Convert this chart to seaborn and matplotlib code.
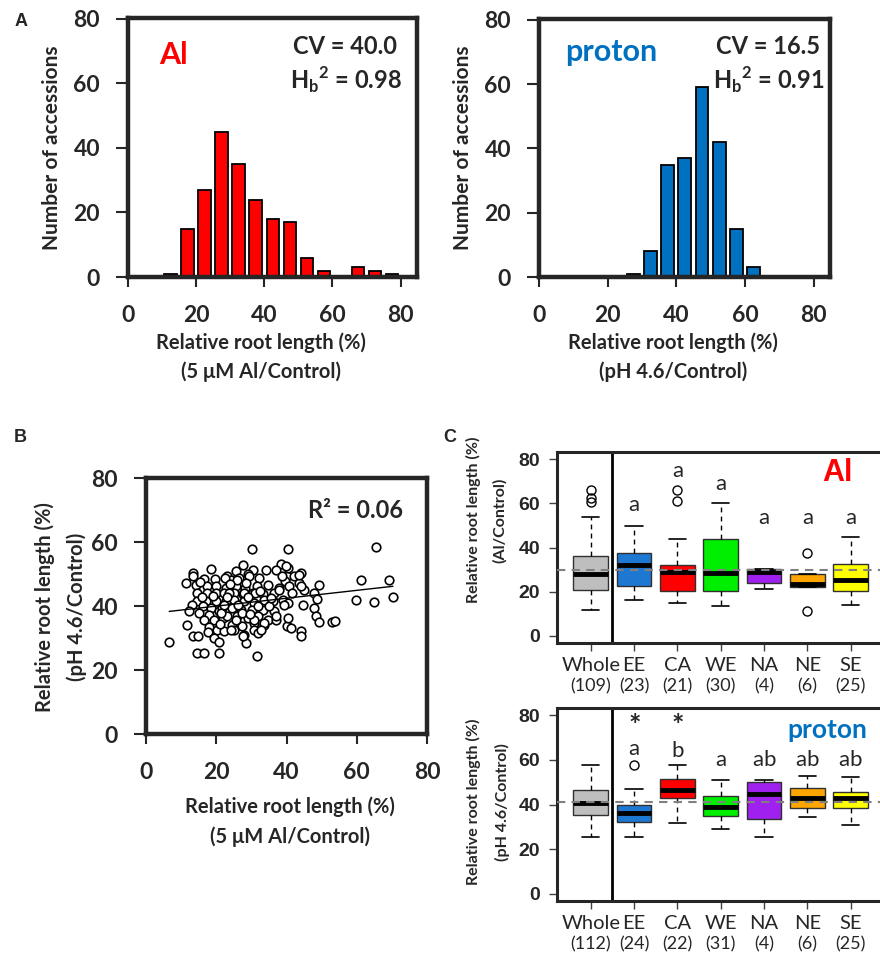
import numpy as np
import matplotlib
matplotlib.use('Agg')
import matplotlib.pyplot as plt
import seaborn as sns

sns.set_style('ticks')
plt.rcParams['font.family'] = ['Lato', 'DejaVu Sans']
plt.rcParams['mathtext.fontset'] = 'custom'
plt.rcParams['mathtext.rm'] = 'Lato'
plt.rcParams['mathtext.bf'] = 'Lato:bold'

# ---------------- data ----------------
# panel A: histograms (bins of 5 %)
bin_edges = [0, 5, 10, 15, 20, 25, 30, 35, 40, 45, 50, 55, 60, 65, 70, 75, 80]
bin_centers = [2.5, 7.5, 12.5, 17.5, 22.5, 27.5, 32.5, 37.5, 42.5, 47.5,
               52.5, 57.5, 62.5, 67.5, 72.5, 77.5]
al_counts = [0, 0, 1, 15, 27, 45, 35, 24, 18, 17, 6, 2, 0, 3, 2, 1]
proton_counts = [0, 0, 0, 0, 0, 1, 8, 35, 37, 59, 42, 15, 3, 0, 0, 0]

# panel B: Al RRL (x) vs proton RRL (y)
rrl_al = [18.4, 13.4, 13.3, 11.3, 14.2, 16.5, 19.7, 17.5, 20.0, 14.6, 17.5, 19.9, 14.6, 17.0,
          19.9, 13.2, 16.1, 18.4, 12.3, 15.1, 18.0, 20.8, 16.6, 19.5, 21.8, 11.8, 18.0, 20.3,
          13.4, 14.8, 17.6, 19.5, 20.9, 6.6, 14.6, 16.4, 20.7,
          30.3, 38.4, 27.5, 34.1, 30.6, 37.0, 25.6, 23.2, 29.1, 24.2, 26.5, 32.2, 40.2, 22.7,
          25.5, 28.3, 31.6, 37.8, 39.7, 22.2, 25.1, 27.5, 30.4, 33.2, 36.5, 22.7, 25.1, 28.0,
          30.8, 33.7, 36.1, 38.9, 21.7, 24.6, 27.0, 30.3, 33.2, 36.5, 23.2, 26.0, 28.9, 31.8,
          34.6, 37.0, 24.6, 27.4, 30.8, 33.7, 22.2, 25.1, 28.0, 28.4, 30.8, 31.7, 40.0, 40.4,
          40.3, 40.3, 42.2, 44.0, 43.6, 40.8, 45.0, 49.3, 47.8, 41.6, 40.4, 44.6, 48.8, 47.8,
          48.3, 49.3, 53.0, 53.7, 41.2, 44.0, 44.0,
          65.6, 61.2, 69.2, 59.8, 64.8, 70.3,
          22.4, 23.7, 26.0, 27.9, 29.4, 31.0, 32.5, 33.6, 35.1, 37.0, 37.9, 38.8, 39.3, 39.8,
          43.6, 44.1, 21.3, 22.2, 24.1, 27.2, 27.5, 30.8, 31.9, 32.7, 23.0, 26.2, 29.0, 32.0,
          34.8, 24.0, 28.6, 19.0, 16.0, 15.5, 21.0, 25.5, 29.5, 35.5]
rrl_proton = [51.6, 50.3, 49.5, 47.2, 46.7, 48.4, 48.4, 46.1, 46.1, 44.1, 44.1, 44.1, 41.5, 41.5,
              41.5, 40.4, 39.9, 39.4, 38.3, 37.8, 37.2, 38.3, 35.7, 35.7, 36.3, 34.2, 33.5, 32.6,
              30.5, 30.5, 32.0, 29.9, 28.8, 28.8, 25.3, 25.3, 25.3,
              57.8, 53.2, 52.9, 51.3, 51.3, 51.3, 50.8, 49.5, 49.9, 48.2, 48.6, 48.6, 49.5, 45.6,
              46.1, 45.6, 46.1, 45.6, 47.7, 44.1, 44.1, 43.6, 44.1, 43.6, 44.1, 41.5, 42.0, 41.5,
              41.0, 42.0, 41.5, 42.0, 39.4, 39.4, 38.9, 38.9, 38.9, 38.3, 36.8, 36.8, 36.3, 36.8,
              35.7, 35.7, 34.2, 33.7, 34.7, 34.2, 32.1, 32.6, 31.0, 28.4, 32.6, 24.3, 33.7, 36.3,
              57.8, 51.8, 49.3, 50.3, 47.2, 46.1, 45.1, 46.7, 44.1, 44.1, 41.0, 40.4, 42.3, 39.4,
              36.8, 34.9, 34.9, 35.3, 33.1, 32.1, 30.5,
              58.3, 48.2, 48.1, 42.0, 41.2, 42.7,
              48.8, 44.1, 48.2, 44.1, 49.3, 44.1, 44.6, 34.7, 39.9, 37.0, 45.1, 49.3, 40.4, 52.4,
              49.8, 46.1, 37.8, 40.4, 32.6, 37.8, 30.5, 35.7, 31.6, 32.6, 42.8, 40.3, 42.8, 40.0,
              46.6, 46.9, 47.3, 43.0, 42.7, 47.5, 34.5, 35.5, 37.5, 42.5]

# panel C: boxplot summaries by region
regions = ['Whole', 'EE', 'CA', 'WE', 'NA', 'NE', 'SE']
box_colors = ['#BEBEBE', '#1E78D2', '#FF0000', '#00EE00', '#A020F0', '#FFA500', '#FFFF00']

al_n = ['(109)', '(23)', '(21)', '(30)', '(4)', '(6)', '(25)']
al_lo = [11.7, 16.2, 14.9, 13.5, 21.2, 22.2, 14.0]
al_q1 = [20.7, 22.5, 20.4, 20.4, 24.0, 22.2, 20.3]
al_med = [27.9, 32.3, 28.7, 28.4, 28.7, 23.3, 25.2]
al_q3 = [36.2, 37.7, 32.0, 44.0, 30.2, 27.8, 32.7]
al_hi = [53.9, 49.7, 44.0, 60.0, 30.2, 27.8, 44.7]
al_fliers = [[66.0, 62.2, 60.6], [], [66.0, 61.0], [], [], [37.7, 11.4], []]
al_letters = ['', 'a', 'a', 'a', 'a', 'a', 'a']
al_letter_y = [0, 59.0, 74.5, 68.5, 53.5, 53.5, 53.5]
al_ref = 29.8

pr_n = ['(112)', '(24)', '(22)', '(31)', '(4)', '(6)', '(25)']
pr_lo = [25.3, 25.3, 31.9, 29.0, 25.3, 34.2, 30.7]
pr_q1 = [35.3, 32.1, 43.1, 34.8, 33.5, 38.4, 38.4]
pr_med = [40.7, 36.3, 46.7, 38.7, 44.9, 43.1, 43.1]
pr_q3 = [46.4, 39.6, 51.4, 43.7, 49.9, 47.4, 45.6]
pr_hi = [57.8, 47.1, 57.8, 51.1, 50.8, 52.6, 52.3]
pr_fliers = [[], [57.5], [], [], [], [], []]
pr_letters = ['', 'a', 'b', 'a', 'ab', 'ab', 'ab']
pr_letter_y = [0, 64.8, 63.8, 59.7, 59.7, 59.7, 59.7]
pr_star = [False, True, True, False, False, False, False]
pr_star_y = 76.0
pr_ref = 40.9

AL_RED = '#FF0000'
PROTON_BLUE = '#0070C0'

# ---------------- layout helpers ----------------
W, H = 880, 955
fig = plt.figure(figsize=(W / 100, H / 100), dpi=100)


def px_axes(l, t, r, b):
    return fig.add_axes([l / W, 1 - b / H, (r - l) / W, (b - t) / H])


def ftext(x, y, s, **kw):
    kw.setdefault('ha', 'center')
    kw.setdefault('va', 'center')
    return fig.text(x / W, 1 - y / H, s, **kw)


def bold_ticks(ax, size, family=None):
    for lbl in ax.get_xticklabels() + ax.get_yticklabels():
        lbl.set_fontweight('bold')
        lbl.set_fontsize(size)
        if family:
            lbl.set_family(family)


# ---------------- panel A ----------------
def hist_panel(ax, counts, color):
    sns.histplot(x=bin_centers, weights=counts, bins=bin_edges, shrink=0.74,
                 color=color, edgecolor='black', linewidth=1.3, alpha=1, ax=ax)
    ax.set_xlim(0, 84.8)
    ax.set_ylim(0, 80.3)
    ax.set_xticks([0, 20, 40, 60, 80])
    ax.set_yticks([0, 20, 40, 60, 80])
    ax.set_xlabel('')
    ax.set_ylabel('')
    for sp in ax.spines.values():
        sp.set_linewidth(3.2)
    ax.tick_params(axis='x', length=7, width=1.5, pad=13)
    ax.tick_params(axis='y', length=9, width=1.5, pad=11)
    bold_ticks(ax, 16.5)


axA1 = px_axes(128, 18, 417, 277)
hist_panel(axA1, al_counts, AL_RED)
axA2 = px_axes(539, 19, 830, 277)
hist_panel(axA2, proton_counts, '#0070C0')

for cx in (52, 463):
    ftext(cx, 148, 'Number of accessions', rotation=90, fontsize=15, fontweight='bold')
ftext(261, 343, 'Relative root length (%)', fontsize=14.5, fontweight='bold')
ftext(261, 372, '(5 \u03bcM Al/Control)', fontsize=14.5, fontweight='bold')
ftext(673, 343, 'Relative root length (%)', fontsize=14.5, fontweight='bold')
ftext(673, 372, '(pH 4.6/Control)', fontsize=14.5, fontweight='bold')

ftext(173, 55, 'Al', fontsize=22, fontweight='bold', color=AL_RED)
ftext(397, 47, 'CV = 40.0', ha='right', fontsize=17, fontweight='bold')
ftext(402, 80, r'$\mathbf{H}_{\mathbf{b}}{}^{\mathbf{2}}$ = 0.98', ha='right', fontsize=17,
      fontweight='bold')
ftext(611, 52, 'proton', fontsize=22, fontweight='bold', color=PROTON_BLUE)
ftext(820, 47, 'CV = 16.5', ha='right', fontsize=17, fontweight='bold')
ftext(825, 80, r'$\mathbf{H}_{\mathbf{b}}{}^{\mathbf{2}}$ = 0.91', ha='right', fontsize=17,
      fontweight='bold')

# ---------------- panel B ----------------
axB = px_axes(146, 478, 427, 734)
sns.scatterplot(x=rrl_al, y=rrl_proton, s=38, color='white', edgecolor='black',
                linewidth=1.2, ax=axB, zorder=2)
sns.regplot(x=rrl_al, y=rrl_proton, scatter=False, ci=None, color='black',
            line_kws={'lw': 1, 'zorder': 3}, ax=axB)
axB.set_xlim(0, 80)
axB.set_ylim(0, 80)
axB.set_xticks([0, 20, 40, 60, 80])
axB.set_yticks([0, 20, 40, 60, 80])
for sp in axB.spines.values():
    sp.set_linewidth(3.2)
axB.tick_params(axis='x', length=7, width=1.5, pad=13)
axB.tick_params(axis='y', length=9, width=1.5, pad=11)
bold_ticks(axB, 16.5)
ftext(403, 510, 'R\u00b2 = 0.06', ha='right', fontsize=17, fontweight='bold')
ftext(45, 607, 'Relative root length (%)', rotation=90, fontsize=14.5, fontweight='bold')
ftext(77, 607, '(pH 4.6/Control)', rotation=90, fontsize=14.5, fontweight='bold')
ftext(290, 807, 'Relative root length (%)', fontsize=14.5, fontweight='bold')
ftext(290, 837, '(5 \u03bcM Al/Control)', fontsize=14.5, fontweight='bold')


# ---------------- panel C ----------------
def box_panel(ax, lo, q1, med, q3, hi, fliers, ref, counts):
    stats = [dict(whislo=a, q1=b, med=c, q3=d, whishi=e, fliers=f, label=r)
             for a, b, c, d, e, f, r in zip(lo, q1, med, q3, hi, fliers, regions)]
    pos = list(range(1, len(regions) + 1))
    bp = ax.bxp(stats, positions=pos, widths=0.8, patch_artist=True, capwidths=0.4,
                boxprops=dict(edgecolor='#303030', linewidth=1),
                medianprops=dict(color='black', linewidth=3.5, solid_capstyle='butt'),
                whiskerprops=dict(color='black', linestyle=(0, (3.5, 3)), linewidth=1),
                capprops=dict(color='black', linewidth=1.2),
                flierprops=dict(marker='o', markerfacecolor='none', markeredgecolor='black',
                                markersize=6.5, markeredgewidth=1))
    for patch, c in zip(bp['boxes'], box_colors):
        patch.set_facecolor(c)
    ax.axhline(ref, color='#808080', linestyle=(0, (4, 3)), linewidth=1.5, zorder=5)
    ax.axvline(1.5, color='black', linewidth=2)
    ax.set_xlim(0.22, 7.78)
    ax.set_ylim(-3.2, 83.2)
    ax.set_yticks([0, 20, 40, 60, 80])
    ax.set_xticks(pos)
    ax.set_xticklabels(regions, fontsize=14.5)
    for sp in ax.spines.values():
        sp.set_linewidth(2.2)
    ax.tick_params(axis='x', length=6, width=1, color='#404040', pad=4)
    ax.tick_params(axis='y', length=6, width=1, color='#404040', pad=6)
    for lbl in ax.get_yticklabels():
        lbl.set_fontweight('bold')
        lbl.set_fontsize(14)
        lbl.set_family('Liberation Sans')
    tr = ax.get_xaxis_transform()
    for p, n in zip(pos, counts):
        ax.text(p, -0.225, n, transform=tr, ha='center', va='center', fontsize=13)
    return pos


def letters(ax, pos, labels, ys):
    for p, t, y in zip(pos, labels, ys):
        if t:
            ax.text(p, y, r'$\mathrm{%s}$' % t, ha='center', va='center', fontsize=16)


axC1 = px_axes(557, 452, 884.5, 643)
pos = box_panel(axC1, al_lo, al_q1, al_med, al_q3, al_hi, al_fliers, al_ref, al_n)
letters(axC1, pos, al_letters, al_letter_y)
ftext(837, 473, 'Al', fontsize=22, fontweight='bold', color=AL_RED, family='Liberation Sans')

axC2 = px_axes(557, 708, 884.5, 901)
pos = box_panel(axC2, pr_lo, pr_q1, pr_med, pr_q3, pr_hi, pr_fliers, pr_ref, pr_n)
letters(axC2, pos, pr_letters, pr_letter_y)
for p, star in zip(pos, pr_star):
    if star:
        axC2.text(p, pr_star_y, r'$\mathbf{*}$', ha='center', va='center', fontsize=21)
ftext(827, 730, 'proton', fontsize=19, fontweight='bold', color=PROTON_BLUE)

ftext(473, 520, 'Relative root length (%)', rotation=90, fontsize=11.5, fontweight='bold')
ftext(500, 520, '(Al/Control)', rotation=90, fontsize=11.5, fontweight='bold')
ftext(473, 802, 'Relative root length (%)', rotation=90, fontsize=11.5, fontweight='bold')
ftext(502, 802, '(pH 4.6/Control)', rotation=90, fontsize=11.5, fontweight='bold')

# panel letters
for x, y, s in [(21, 22, 'A'), (20, 438, 'B'), (450, 438, 'C')]:
    ftext(x, y, s, fontsize=13, fontweight='bold', family='Liberation Sans')

fig.savefig('out.png', dpi=100)
